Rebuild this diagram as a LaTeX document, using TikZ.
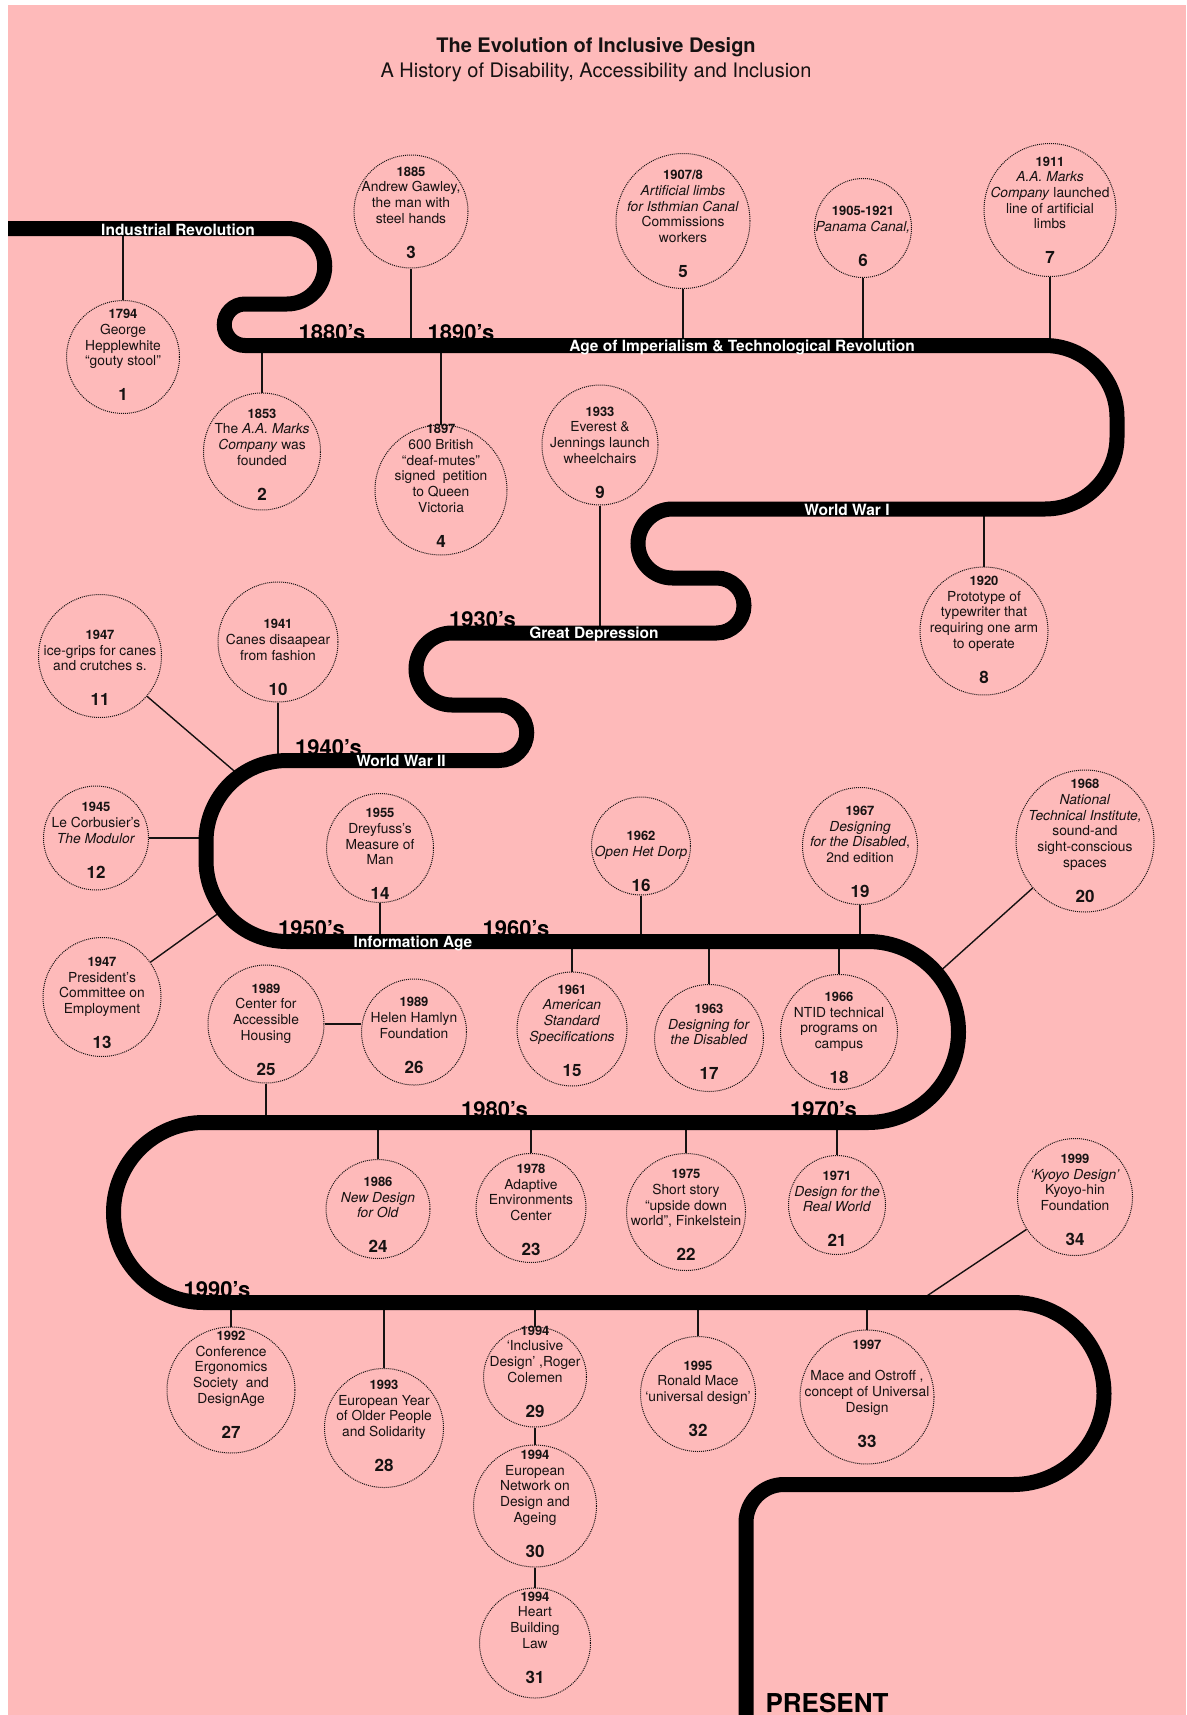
\documentclass[tikz,border=0pt]{standalone}
\usepackage{fontspec}
\setmainfont{TeX Gyre Heros}
\usepackage{tikz}
\usetikzlibrary{arrows.meta, calc, positioning, shapes.geometric}
\usepackage{xcolor}
\definecolor{bgpink}{RGB}{254,186,186}
\definecolor{ink}{RGB}{22,18,18}

\tikzset{
  band/.style={line width=15pt, black},
  evt/.style={ellipse, draw=ink, densely dotted, line width=1pt, inner sep=0pt},
  evtxt/.style={align=center, inner sep=0pt, text=ink, font=\fontsize{13.8}{15.7}\selectfont},
  link/.style={line width=1.4pt, ink},
  era/.style={anchor=base, inner sep=0pt, text=white, font=\bfseries\fontsize{15.5}{17}\selectfont},
  decade/.style={anchor=base, inner sep=0pt, text=black, font=\bfseries\fontsize{22}{24}\selectfont},
}
\newcommand{\evyear}[1]{{\bfseries\fontsize{13}{15}\selectfont #1}}
\newcommand{\evnum}[1]{{\bfseries\fontsize{17}{18}\selectfont #1}}
% [offset] name, centre, width, height, text, number
\newcommand{\event}[7][10]{%
  \node[evt, minimum width=#4pt, minimum height=#5pt] (#2) at (#3) {};
  \node[evtxt, anchor=south] (#2t) at ([yshift=#1pt]#2.south) {#6\\[19.3pt]\evnum{#7}};}

\begin{document}
\begin{tikzpicture}[x=1pt, y=-1pt]
    % 背景
    \useasboundingbox (0,0) rectangle (1186,1715);
    \fill[white] (0,0) rectangle (1186,1715);
    \fill[bgpink] (8,5) rectangle (1186,1715);

    % 标题
    \node[anchor=base, text=ink, font=\bfseries\fontsize{20}{24}\selectfont] (title) at (596,53) {The Evolution of Inclusive Design};
    \node[anchor=base, text=ink, font=\fontsize{20}{24}\selectfont] (subtitle) at (596,78) {A History of Disability, Accessibility and Inclusion};

    % 时间线高度
    \coordinate (lv1) at (0,228.5);
    \coordinate (lv2) at (0,345.5);
    \coordinate (lv3) at (0,509);
    \coordinate (lv4) at (0,633);
    \coordinate (lv5) at (0,760.5);
    \coordinate (lv6) at (0,941.5);
    \coordinate (lv7) at (0,1122.5);
    \coordinate (lv8) at (0,1302.5);
    \coordinate (c11) at (240,776);
    \coordinate (c12) at (206,838);
    \coordinate (c13) at (223,910);
    \coordinate (c20) at (937,974);
    \coordinate (c34) at (917,1302.5);

    % 事件
    \event[13]{e1}{123,357}{113}{113}{\evyear{1794}\\George\\Hepplewhite\\“gouty stool”}{1}
    \event[10]{e2}{262,451.5}{117}{117}{\evyear{1853}\\The \textit{A.A. Marks}\\\textit{Company} was\\founded}{2}
    \event[10]{e3}{411,211.5}{114}{113}{\evyear{1885}\\Andrew Gawley,\\the man with\\steel hands}{3}
    \event[8]{e4}{441,490}{132}{130}{\evyear{1897}\\600 British\\“deaf-mutes”\\signed\ \ petition\\to Queen\\Victoria}{4}
    \event[11]{e5}{683,221}{134}{135}{\evyear{1907/8}\\\textit{Artificial limbs}\\\textit{for Isthmian Canal}\\Commissions\\workers}{5}
    \event[11]{e6}{863,228}{97}{99}{\evyear{1905-1921}\\\textit{Panama Canal,}}{6}
    \event[13]{e7}{1050,210}{132}{133}{\evyear{1911}\\\textit{A.A. Marks}\\\textit{Company} launched\\line of artificial\\limbs}{7}
    \event[12]{e8}{984,631}{128}{128}{\evyear{1920}\\Prototype of\\typewriter that\\requiring one arm\\to operate}{8}
    \event[7]{e9}{600,445}{116}{120}{\evyear{1933}\\Everest \&\\Jennings launch\\wheelchairs}{9}
    \event[7]{e10}{278,642}{120}{120}{\evyear{1941}\\Canes disaapear\\from fashion}{10}
    \event[12]{e11}{100,656}{123}{123}{\evyear{1947}\\ice-grips for canes\\and crutches s.}{11}
    \event[12]{e12}{96,838}{105}{104}{\evyear{1945}\\Le Corbusier’s\\\textit{The Modulor}}{12}
    \event[8]{e13}{102,997}{118}{119}{\evyear{1947}\\President’s\\Committee on\\Employment}{13}
    \event[3]{e14}{380,848}{107}{109}{\evyear{1955}\\Dreyfuss’s\\Measure of\\Man}{14}
    \event[10]{e15}{572,1029}{110}{114}{\evyear{1961}\\\textit{American}\\\textit{Standard}\\\textit{Specifications}}{15}
    \event[4]{e16}{641,846}{99}{98}{\evyear{1962}\\\textit{Open Het Dorp}}{16}
    \event[12]{e17}{709,1038}{109}{107}{\evyear{1963}\\\textit{Designing for}\\\textit{the Disabled}}{17}
    \event[6]{e18}{839,1032}{117}{115}{\evyear{1966}\\NTID technical\\programs on\\campus}{18}
    \event[7]{e19}{860,846}{115}{117}{\evyear{1967}\\\textit{Designing}\\\textit{for the Disabled},\\2nd edition}{19}
    \event[10]{e20}{1085,841}{138}{142}{\evyear{1968}\\\textit{National}\\\textit{Technical Institute,}\\sound-and\\sight-conscious\\spaces}{20}
    \event[8]{e21}{837,1205}{97}{99}{\evyear{1971}\\\textit{Design for the}\\\textit{Real World}}{21}
    \event[10]{e22}{686,1212}{119}{117}{\evyear{1975}\\Short story\\“upside down\\world”, Finkelstein}{22}
    \event[7]{e23}{531,1208}{110}{109}{\evyear{1978}\\Adaptive\\Environments\\Center}{23}
    \event[6]{e24}{378,1209}{104}{99}{\evyear{1986}\\\textit{New Design}\\\textit{for Old}}{24}
    \event[8]{e25}{266,1024}{116}{118}{\evyear{1989}\\Center for\\Accessible\\Housing}{25}
    \event[12]{e26}{414,1032}{105}{106}{\evyear{1989}\\Helen Hamlyn\\Foundation}{26}
    \event[15]{e27}{231,1390}{128}{126}{\evyear{1992}\\Conference\\Ergonomics\\Society\ \ and\\DesignAge}{27}
    \event[16]{e28}{384,1428}{119}{119}{\evyear{1993}\\European Year\\of Older People\\and Solidarity}{28}
    \event[10]{e29}{535,1377}{103}{100}{\evyear{1994}\\‘Inclusive\\Design’ ,Roger\\Colemen}{29}
    \event[10]{e30}{535,1506}{123}{122}{\evyear{1994}\\European\\Network on\\Design and\\Ageing}{30}
    \event[15]{e31}{535,1643}{111}{110}{\evyear{1994}\\Heart\\Building\\Law}{31}
    \event[15]{e32}{698,1394}{115}{115}{\evyear{1995}\\Ronald Mace\\‘universal design’}{32}
    \event[17]{e33}{867,1397}{134}{134}{\evyear{1997}\\[15.7pt]Mace and Ostroff ,\\concept of Universal\\Design}{33}
    \event[10]{e34}{1075,1197}{115}{117}{\evyear{1999}\\\textit{‘Kyoyo Design’}\\Kyoyo-hin\\Foundation}{34}

    % 连线
    \draw[link] (e1) -- (e1 |- lv1);
    \draw[link] (e2) -- (e2 |- lv2);
    \draw[link] (e3) -- (e3 |- lv2);
    \draw[link] (e4) -- (e4 |- lv2);
    \draw[link] (e5) -- (e5 |- lv2);
    \draw[link] (e6) -- (e6 |- lv2);
    \draw[link] (e7) -- (e7 |- lv2);
    \draw[link] (e8) -- (e8 |- lv3);
    \draw[link] (e9) -- (e9 |- lv4);
    \draw[link] (e10) -- (e10 |- lv5);
    \draw[link] (e11) -- (c11);
    \draw[link] (e12) -- (c12);
    \draw[link] (e13) -- (c13);
    \draw[link] (e14) -- (e14 |- lv6);
    \draw[link] (e15) -- (e15 |- lv6);
    \draw[link] (e16) -- (e16 |- lv6);
    \draw[link] (e17) -- (e17 |- lv6);
    \draw[link] (e18) -- (e18 |- lv6);
    \draw[link] (e19) -- (e19 |- lv6);
    \draw[link] (e20) -- (c20);
    \draw[link] (e21) -- (e21 |- lv7);
    \draw[link] (e22) -- (e22 |- lv7);
    \draw[link] (e23) -- (e23 |- lv7);
    \draw[link] (e24) -- (e24 |- lv7);
    \draw[link] (e25) -- (e25 |- lv7);
    \draw[link] (e25.east) -- (e25.east -| e26.west);
    \draw[link] (e27) -- (e27 |- lv8);
    \draw[link] (e28) -- (e28 |- lv8);
    \draw[link] (e29) -- (e29 |- lv8);
    \draw[link] (e29) -- (e30);
    \draw[link] (e30) -- (e31);
    \draw[link] (e32) -- (e32 |- lv8);
    \draw[link] (e33) -- (e33 |- lv8);
    \draw[link] (e34) -- (c34);

    % 时间线
    \draw[band] (8,228.5) -- (287,228.5) arc[start angle=-90, end angle=90, radius=37.75]
        -- (245,304) arc[start angle=270, end angle=90, radius=20.75]
        -- (1045,345.5) arc[start angle=-90, end angle=0, radius=72]
        -- (1117,437) arc[start angle=0, end angle=90, radius=72]
        -- (672.5,509) arc[start angle=270, end angle=90, radius=34.5]
        -- (716.5,578) arc[start angle=-90, end angle=90, radius=27.5]
        -- (452,633) arc[start angle=270, end angle=90, radius=36]
        -- (499,705) arc[start angle=-90, end angle=90, radius=27.75]
        -- (287,760.5) arc[start angle=270, end angle=180, radius=81]
        -- (206,860.5) arc[start angle=180, end angle=90, radius=81]
        -- (868,941.5) arc[start angle=-90, end angle=90, radius=90.5]
        -- (203.5,1122.5) arc[start angle=270, end angle=90, radius=90]
        -- (1013,1302.5) arc[start angle=-90, end angle=90, radius=91]
        -- (784,1484.5) arc[start angle=270, end angle=180, radius=38]
        -- (746,1716);

    % 时期
    \node[era] (indrev) at (178,235) {Industrial Revolution};
    \node[era] (imperial) at (742,351) {Age of Imperialism \& Technological Revolution};
    \node[era] (ww1) at (847,515) {World War I};
    \node[era] (depression) at (594,638.5) {Great Depression};
    \node[era] (ww2) at (401,766) {World War II};
    \node[era] (infoage) at (413,947) {Information Age};

    % 年代
    \node[decade] (d1880) at (332,340) {1880’s};
    \node[decade] (d1890) at (461,340) {1890’s};
    \node[decade] (d1930) at (482.5,627) {1930’s};
    \node[decade] (d1940) at (328.5,755) {1940’s};
    \node[decade] (d1950) at (311.5,936) {1950’s};
    \node[decade] (d1960) at (516,936) {1960’s};
    \node[decade] (d1980) at (494.5,1117) {1980’s};
    \node[decade] (d1970) at (823.5,1117) {1970’s};
    \node[decade] (d1990) at (217,1297) {1990’s};
    \node[decade, font=\bfseries\fontsize{26}{28}\selectfont] (present) at (827,1712) {PRESENT};
\end{tikzpicture}
\end{document}
